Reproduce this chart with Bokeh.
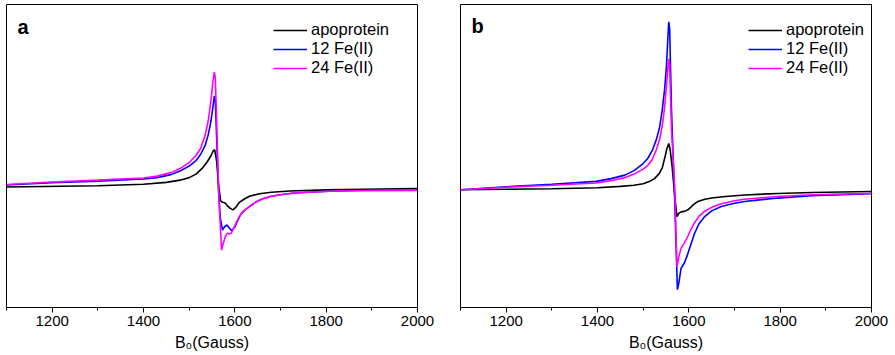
from bokeh.plotting import figure
from bokeh.layouts import row
from bokeh.models import FixedTicker, Range1d, Label, Legend, LegendItem
from bokeh.embed import file_html
from bokeh.resources import INLINE

# ---------------- data (arbitrary intensity units) ----
labels = ["apoprotein", "12 Fe(II)", "24 Fe(II)"]
colors = ["#000000", "#0000FF", "#FF00FF"]

a_apo_x = [1100, 1300, 1400, 1450, 1480, 1500, 1515, 1530, 1540, 1548, 1553, 1556, 1560, 1565, 1569, 1573, 1578, 1584, 1590, 1596, 1603, 1610, 1620, 1632, 1654, 1680, 1720, 1800, 1880, 2000]
a_apo_y = [0.7, 2.0, 3.5, 5.3, 7.5, 10, 13.5, 20, 26, 32, 37, 37.5, 27, 0, -13, -14.5, -15, -18, -20.5, -22, -19, -14.5, -11.5, -8.5, -6, -4.5, -3.3, -2.2, -1.5, -0.8]

a_fe12_x = [1100, 1200, 1300, 1400, 1430, 1460, 1480, 1500, 1515, 1525, 1535, 1542, 1548, 1552, 1555, 1557, 1559, 1564, 1568, 1573, 1578, 1583, 1588, 1593, 1600, 1605, 1610, 1615, 1621, 1632, 1645, 1661, 1680, 1700, 1730, 1771, 1820, 1880, 2000]
a_fe12_y = [2.7, 5, 6.5, 8.7, 10, 13, 16.5, 21.5, 27, 33, 42, 53, 67, 80, 91, 88, 65, 0, -30, -42, -38.5, -37, -40, -42.7, -39, -34, -29, -25.5, -22.5, -18.7, -14.5, -11, -8.5, -7, -5.3, -4.2, -3.3, -2.8, -2.5]

a_fe24_x = [1100, 1200, 1300, 1400, 1430, 1460, 1480, 1500, 1515, 1525, 1535, 1542, 1548, 1552, 1555, 1557, 1559, 1565, 1571, 1575, 1579, 1583, 1588, 1592, 1599, 1605, 1610, 1615, 1621, 1632, 1645, 1661, 1680, 1700, 1730, 1771, 1820, 1880, 2000]
a_fe24_y = [3.2, 5.7, 7.5, 9.7, 11.5, 15, 19, 25, 32, 39, 52, 67, 88, 105, 114.7, 110, 85, -10, -62, -55, -48.7, -45.3, -46, -45.3, -38.7, -33, -28.5, -25, -22.5, -18.7, -14.5, -11, -8.5, -7, -5.3, -4.2, -3.3, -2.8, -2.6]

b_apo_x = [1100, 1200, 1300, 1400, 1450, 1480, 1500, 1515, 1525, 1535, 1542, 1548, 1552, 1556, 1559, 1563, 1570, 1574, 1578, 1583, 1590, 1598, 1605, 1612, 1620, 1635, 1650, 1680, 1722, 1795, 1870, 2000]
b_apo_y = [0, 0.5, 1, 2, 3.3, 4.5, 6, 8.5, 11, 16, 22, 33, 41, 46, 40, 25, -10, -26.7, -23.5, -22, -21.5, -20, -17, -14, -11.7, -9.5, -8.3, -6.7, -5.2, -3.7, -2.8, -1.7]

b_fe12_x = [1100, 1200, 1300, 1397, 1430, 1460, 1480, 1500, 1510, 1520, 1529, 1536, 1542, 1547, 1551, 1554, 1556, 1558, 1562, 1569, 1575, 1578, 1583, 1590, 1596, 1604, 1612, 1622, 1634, 1650, 1671, 1700, 1722, 1760, 1795, 1868, 2000]
b_fe12_y = [0, 3, 5.5, 8.3, 11, 14.5, 19, 26, 31, 39, 50, 62, 80, 100, 123, 150, 166.7, 160, 80, -10, -99.3, -93, -78, -73, -66, -55, -44, -34, -27, -21, -16.7, -13.5, -11.7, -9.8, -8.3, -6, -4]

b_fe24_x = [1100, 1200, 1300, 1397, 1430, 1460, 1480, 1500, 1510, 1520, 1529, 1536, 1542, 1547, 1551, 1554, 1556, 1558, 1562, 1569, 1574, 1578, 1583, 1590, 1596, 1604, 1612, 1622, 1634, 1650, 1671, 1700, 1722, 1760, 1795, 1870, 2000]
b_fe24_y = [0, 2.5, 4.5, 6.7, 9, 12, 15.5, 20.5, 24, 30, 40, 50, 64, 82, 103, 120, 130, 124, 60, 3.3, -76.7, -67, -58, -53, -48, -40, -33.3, -26.5, -21.7, -17.5, -14, -11, -9.5, -8, -6.8, -5, -3.5]

x_major = [1200, 1400, 1600, 1800, 2000]
x_minor = [1100, 1200, 1300, 1400, 1500, 1600, 1700, 1800, 1900, 2000]

FONT = "Liberation Sans"


def panel(series, y_lo, y_hi, letter, letter_y, width, left, right, legend_loc):
    p = figure(width=width, height=353, x_range=Range1d(1100, 2000),
               y_range=Range1d(y_lo, y_hi), output_backend="svg",
               toolbar_location=None, y_axis_location=None,
               min_border_left=left, min_border_right=right,
               min_border_top=4, min_border_bottom=0)
    p.grid.visible = False
    p.outline_line_color = "black"
    p.outline_line_alpha = 1
    p.outline_line_width = 1
    p.background_fill_color = "white"
    p.border_fill_color = "white"

    ax = p.xaxis[0]
    ax.ticker = FixedTicker(ticks=x_major, minor_ticks=x_minor)
    ax.axis_line_color = "black"
    ax.major_tick_line_color = "black"
    ax.minor_tick_line_color = "black"
    ax.major_tick_in = 0
    ax.major_tick_out = 5
    ax.minor_tick_in = 0
    ax.minor_tick_out = 3
    ax.major_label_text_font = FONT
    ax.major_label_text_font_size = "15px"
    ax.major_label_text_color = "black"
    ax.major_label_standoff = 3
    ax.axis_label = "B\u2080(Gauss)"
    ax.axis_label_text_font = FONT
    ax.axis_label_text_font_size = "16px"
    ax.axis_label_text_font_style = "normal"
    ax.axis_label_text_color = "black"
    ax.axis_label_standoff = 5

    items = []
    for (xs, ys), lab, col in zip(series, labels, colors):
        r = p.line(xs, ys, line_color=col, line_width=1.6)
        items.append(LegendItem(label=lab, renderers=[r]))

    leg = Legend(items=items, location=legend_loc)
    leg.label_text_font = FONT
    leg.label_text_font_size = "16.5px"
    leg.label_text_color = "black"
    leg.glyph_width = 34
    leg.glyph_height = 18
    leg.label_height = 18
    leg.label_standoff = 4
    leg.spacing = 0
    leg.padding = 0
    leg.margin = 0
    leg.border_line_alpha = 0
    leg.background_fill_alpha = 0
    p.add_layout(leg)

    p.add_layout(Label(x=1124, y=letter_y, text=letter, text_font=FONT,
                       text_font_size="20px", text_font_style="bold",
                       text_color="black", text_baseline="alphabetic",
                       text_align="left"))
    return p


pa = panel([(a_apo_x, a_apo_y), (a_fe12_x, a_fe12_y), (a_fe24_x, a_fe24_y)],
           -119, 182, "a", 159.5, 437, 6, 20, (267, 230))
pb = panel([(b_apo_x, b_apo_y), (b_fe12_x, b_fe12_y), (b_fe24_x, b_fe24_y)],
           -117, 184, "b", 162.5, 452, 23, 18, (288, 230))

layout = row(pa, pb)
open("out.html", "w").write(file_html(layout, INLINE))
